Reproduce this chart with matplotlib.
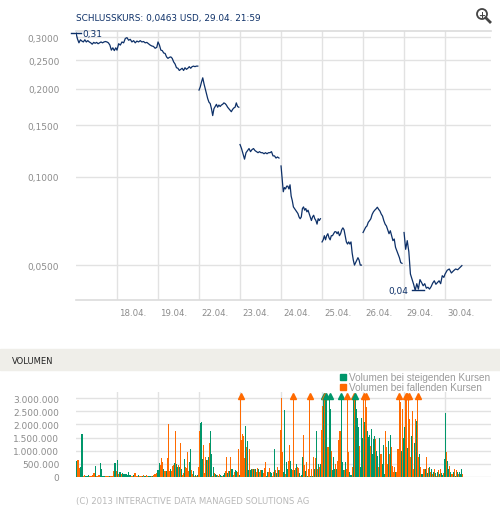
import matplotlib
matplotlib.use("Agg")
import matplotlib.pyplot as plt
import numpy as np
from matplotlib.patches import Circle, Rectangle
from matplotlib.ticker import FixedLocator, NullLocator

# trading days on the x axis (the first one carries no label)
days = ["17.04.", "18.04.", "19.04.", "22.04.", "23.04.", "24.04.", "25.04.", "26.04.", "29.04.", "30.04."]

# intraday prices in USD, one list per trading day
price_17 = [0.310, 0.296, 0.287, 0.294, 0.291, 0.289, 0.294, 0.289, 0.292, 0.289, 0.287, 0.284, 0.288, 0.286,
            0.288, 0.285, 0.287, 0.289, 0.287, 0.289, 0.290, 0.289, 0.287, 0.282, 0.271, 0.276, 0.270, 0.276]
price_18 = [0.271, 0.285, 0.282, 0.289, 0.287, 0.297, 0.299, 0.293, 0.295, 0.289, 0.292, 0.287, 0.291, 0.289,
            0.292, 0.289, 0.290, 0.287, 0.288, 0.285, 0.282, 0.280, 0.279, 0.275, 0.277]
price_19 = [0.289, 0.282, 0.271, 0.270, 0.265, 0.264, 0.257, 0.254, 0.256, 0.257, 0.254, 0.247, 0.243, 0.236,
            0.235, 0.231, 0.233, 0.235, 0.231, 0.236, 0.233, 0.235, 0.238, 0.235, 0.238, 0.239, 0.238, 0.239, 0.239]
price_22 = [0.198, 0.203, 0.211, 0.218, 0.208, 0.200, 0.193, 0.185, 0.180, 0.178, 0.171, 0.162, 0.171, 0.174,
            0.177, 0.173, 0.176, 0.174, 0.176, 0.177, 0.179, 0.178, 0.176, 0.173, 0.171, 0.169, 0.167, 0.170,
            0.172, 0.173, 0.179, 0.174, 0.173]
price_23 = [0.129, 0.125, 0.120, 0.115, 0.121, 0.123, 0.125, 0.122, 0.124, 0.125, 0.123, 0.122, 0.121, 0.122,
            0.121, 0.121, 0.120, 0.121, 0.120, 0.121, 0.121, 0.122, 0.118, 0.118, 0.116, 0.117, 0.116]
price_24 = [0.109, 0.098, 0.089, 0.092, 0.091, 0.093, 0.093, 0.091, 0.094, 0.086, 0.083, 0.079, 0.078, 0.077,
            0.076, 0.075, 0.073, 0.072, 0.073, 0.078, 0.079, 0.077, 0.078, 0.076, 0.077, 0.075, 0.073, 0.071,
            0.073, 0.074, 0.072, 0.071, 0.069, 0.072, 0.071, 0.072]
price_25 = [0.060, 0.061, 0.063, 0.061, 0.063, 0.064, 0.062, 0.061, 0.063, 0.063, 0.064, 0.065, 0.065, 0.064,
            0.065, 0.063, 0.064, 0.066, 0.067, 0.066, 0.063, 0.060, 0.059, 0.060, 0.059, 0.060, 0.055, 0.052,
            0.050, 0.051, 0.052, 0.053, 0.052, 0.050, 0.050]
price_26 = [0.0646, 0.0660, 0.0673, 0.0680, 0.0700, 0.0709, 0.0720, 0.0745, 0.0760, 0.0770, 0.0778, 0.0788,
            0.0775, 0.0765, 0.0747, 0.0735, 0.0709, 0.0690, 0.0680, 0.0660, 0.0640, 0.0655, 0.0630, 0.0606,
            0.0614, 0.0575, 0.0560, 0.0545, 0.0530, 0.0510, 0.0507]
price_29 = [0.0646, 0.0566, 0.0606, 0.0555, 0.0466, 0.0448, 0.0430, 0.0410, 0.0432, 0.0414, 0.0446, 0.0436,
            0.0425, 0.0432, 0.0417, 0.0420, 0.0414, 0.0422, 0.0434, 0.0442, 0.0430, 0.0436, 0.0442, 0.0432,
            0.0460, 0.0454]
price_30 = [0.0466, 0.0480, 0.0485, 0.0470, 0.0478, 0.0485, 0.0482, 0.0490, 0.0498]
prices = [price_17, price_18, price_19, price_22, price_23, price_24, price_25, price_26, price_29, price_30]
# part of each trading day covered by the quotes
price_span = [0.97, 0.97, 0.97, 0.97, 0.95, 0.96, 0.96, 0.95, 0.97, 0.41]
# the price line is interrupted before these days
gap_before = ["22.04.", "23.04.", "24.04.", "25.04.", "26.04.", "29.04."]

# volume per interval in thousands: positive = rising price, negative = falling price
vol_17 = [590, -650, -340, 370, 1650, -50, -80, 40, 50, 60, -20, -40, -60, -140, 430, -40, -30, -80, 540, 290,
          20, 20, -40, -20, -40, 50, -30, -50, -220, 520, -240]
vol_18 = [630, -100, 180, -120, 140, 100, 120, 100, 80, 200, 90, -40, -20, 90, -140, -40, -40, 90, -40, -20, 20,
          -60, 40, -60, -40, 20, 40, -20, 50, -90, -120, -140, 270]
vol_19 = [270, 520, -470, -710, -560, 300, -240, -220, 220, -710, -2030, -240, 300, -220, -430, -470, 520, -1750,
          490, 370, -460, 370, -1280, 300, -90, -140, 680, -390, -330, -940, -240, 560, 1060, -280, -110, 220,
          -50, 90, -50, 90, -370]
vol_22 = [-1760, 2040, 2080, 680, -1230, -140, -750, 650, -650, 770, -1280, 1730, 870, -50, 390, -140, 110, 80,
          -80, 50, -110, 80, 40, -50, 90, 140, -240, -750, 140, -240, 220, -750, 300, 300, -90, -180, 270, 240,
          -180, -1060, 90]
vol_23 = [-3600, -1420, -1620, -1550, -720, 1920, -1150, 1350, 280, -1050, 270, -140, 300, -300, 300, -300, 300,
          -200, -350, 300, -200, -250, 250, 250, -150, -350, -560, 50, 200, -200, -350, 200, 150, -250, -50, -200,
          1060, -250, 150, -370, 250, -250, -1790]
vol_24 = [-3050, -940, 180, 2540, -120, 560, 300, -620, -1230, 620, 300, -250, -3600, 250, -350, 490, -380, -350,
          150, -50, 90, 750, 940, -1600, -470, 230, -560, 50, -300, -3600, 50, -300, 50, -750, 300, -720, 1760,
          -300, 490, -380, 490, -1800]
vol_25 = [-2700, 3600, -3600, 3600, 3000, -1150, -1130, 3600, 2600, -1000, 250, 750, 300, -500, 300, -600, -1400,
          -1750, 3600, 560, 250, -250, 560, -300, -3600, -940, 180, 90, 90, -370, 3000, -3600, 3600, 2600, 2240,
          1900, -1190, 370, 2240, 1500]
vol_26 = [-3600, 2100, -3600, -2650, 1760, 1530, 1600, -1190, 1820, 880, 1440, 1570, -1450, 1000, 810, -370, 1500,
          -880, 490, 1200, 110, -1760, -1130, -490, 1380, -880, 1600, -1130, -430, -180, -370, 180, -180, -1060,
          -1060, -3600, -2850, 1000, -2600, 1500]
vol_29 = [1900, -3600, -3600, 1100, -3600, -2200, -750, 1570, -2500, -300, 1300, -2200, 2140, -3600, -750, 870,
          -370, 110, -300, -300, 300, -750, 150, -350, 380, -200, 300, -100, 200, -300, 150, -50, 200, -250, 100,
          -300, 150, 80, -150, 680]
vol_30 = [2420, -940, 600, 300, -400, 200, -100, 200, -300, 50, -250, 200, -100, 200, 100, 300, -100]
volumes = [vol_17, vol_18, vol_19, vol_22, vol_23, vol_24, vol_25, vol_26, vol_29, vol_30]
vol_span = [1.0] * 9 + [0.44]

NAVY = "#0d3068"
GREEN = "#00966a"
ORANGE = "#ff6a00"
GRID = "#e2e2e2"
LABEL = "#8c8c8c"
plt.rcParams["font.family"] = ["DejaVu Sans"]

fig = plt.figure(figsize=(5.0, 5.1), dpi=100)

# price chart
ax = fig.add_axes([76 / 500, 1 - 301 / 510, 415 / 500, 269 / 510])
xx, yy = [], []
for i, (day, p) in enumerate(zip(days, prices)):
    if day in gap_before:
        xx.append(np.nan)
        yy.append(np.nan)
    xx.extend(i + np.linspace(0, price_span[i], len(p)))
    yy.extend(p)
xx = np.array(xx)
yy = np.array(yy)
ax.plot(xx, yy, color=NAVY, lw=0.9, zorder=3)

ax.set_yscale("log")
ax.set_ylim(0.038, 0.315)
ax.set_xlim(0, 10.12)
yticks = [0.05, 0.1, 0.15, 0.2, 0.25, 0.3]
ax.yaxis.set_major_locator(FixedLocator(yticks))
ax.yaxis.set_minor_locator(NullLocator())
ax.set_yticklabels([f"{t:.4f}".replace(".", ",") for t in yticks])
ax.tick_params(axis="y", length=0, pad=12, labelsize=6.5, labelcolor=LABEL)
ax.set_xticks(range(1, len(days)))
ax.set_xticklabels([])
ax.tick_params(axis="x", length=0)
ax.grid(True, color=GRID, lw=1.0)
ax.set_axisbelow(True)
for side in ["left", "right"]:
    ax.spines[side].set_visible(False)
for side in ["top", "bottom"]:
    ax.spines[side].set_color("#dcdcdc")
    ax.spines[side].set_linewidth(1.2)
for i, d in enumerate(days):
    if i == 0:
        continue
    ax.text(i + 0.05, -0.045, d, transform=ax.get_xaxis_transform(), ha="left", va="center",
            fontsize=6.2, color=LABEL)

# high / low markers
i_hi = np.nanargmax(yy)
i_lo = np.nanargmin(yy)
hi, lo = yy[i_hi], yy[i_lo]
ax.plot([xx[i_hi] - 0.12, xx[i_hi] + 0.12], [hi, hi], color=NAVY, lw=1.0, clip_on=False)
ax.text(xx[i_hi] + 0.15, hi, f"{hi:.2f}".replace(".", ","), ha="left", va="center", fontsize=6.5, color=NAVY)
ax.plot([xx[i_lo] - 0.08, xx[i_lo] + 0.22], [lo, lo], color=NAVY, lw=1.0)
ax.text(xx[i_lo] - 0.18, lo, f"{lo:.2f}".replace(".", ","), ha="right", va="center", fontsize=6.5, color=NAVY)

# volume chart
axv = fig.add_axes([76 / 500, 1 - 478 / 510, 415 / 500, 85 / 510])
cap = 3.1e6
for i, v in enumerate(volumes):
    v = np.array(v) * 1000.0
    n = len(v)
    w = vol_span[i] / n
    x = i + (np.arange(n) + 0.5) * w
    colors = [GREEN if val > 0 else ORANGE for val in v]
    h = np.minimum(np.abs(v), 3.0e6)
    axv.bar(x, h, width=w, color=colors, linewidth=0, antialiased=False, zorder=3)
    over = np.abs(v) > cap
    for xi, col in zip(x[over], np.array(colors)[over]):
        axv.plot(xi, 3.09e6, marker="^", ms=4.5, color=col, mec=col, zorder=4, clip_on=False)
axv.set_xlim(0, 10.12)
axv.set_ylim(0, 3.23e6)
vticks = np.arange(0, 3.0e6 + 1, 5e5)
axv.set_yticks(vticks)
axv.set_yticklabels([f"{int(t):,}".replace(",", ".") for t in vticks])
axv.tick_params(axis="y", length=0, pad=12, labelsize=6.5, labelcolor=LABEL)
axv.set_xticks(range(1, len(days)))
axv.set_xticklabels([])
axv.tick_params(axis="x", length=0)
axv.grid(True, color=GRID, lw=1.0)
axv.set_axisbelow(True)
for side in axv.spines:
    axv.spines[side].set_visible(False)

# header band of the volume panel
fig.add_artist(Rectangle((0, 1 - 371 / 510), 1, 21 / 510, transform=fig.transFigure,
                         color="#efeee9", zorder=0))
fig.text(12 / 500, 1 - 361 / 510, "VOLUMEN", ha="left", va="center", fontsize=6, color="#222222")

# legend
for k, (col, txt) in enumerate([(GREEN, "Volumen bei steigenden Kursen"), (ORANGE, "Volumen bei fallenden Kursen")]):
    y = 378 + k * 10
    fig.add_artist(Rectangle((340 / 500, 1 - (y + 3) / 510), 6 / 500, 6 / 510, transform=fig.transFigure,
                             color=col))
    fig.text(349 / 500, 1 - y / 510, txt, ha="left", va="center", fontsize=7.2, color="#9a9a9a",
             family=["Liberation Sans", "DejaVu Sans"])

# title, zoom icon and footer
fig.text(76 / 500, 1 - 19 / 510, "SCHLUSSKURS: 0,0463 USD, 29.04. 21:59", ha="left", va="center",
         fontsize=6.4, color=NAVY)
fig.add_artist(Circle((4.82, (510 - 15) / 100), 0.05, transform=fig.dpi_scale_trans, fill=False,
                      ec="#444444", lw=1.3))
fig.text(482 / 500, 1 - 15 / 510, "+", ha="center", va="center", fontsize=6, color="#444444",
         fontweight="bold")
fig.add_artist(plt.Line2D([486 / 500, 490 / 500], [1 - 19 / 510, 1 - 23 / 510], transform=fig.transFigure,
                          color="#444444", lw=2))
fig.text(76 / 500, 1 - 502 / 510, "(C) 2013 INTERACTIVE DATA MANAGED SOLUTIONS AG", ha="left", va="center",
         fontsize=6.1, color="#b8b8b8")

fig.savefig("out.png", dpi=100)
